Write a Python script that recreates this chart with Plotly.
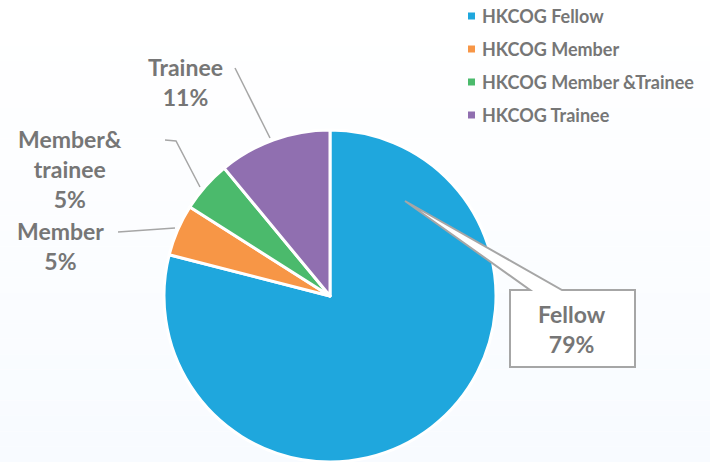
import plotly.graph_objects as go

# ---- data ----
categories = ["HKCOG Fellow", "HKCOG Member", "HKCOG Member &Trainee", "HKCOG Trainee"]
values = [79, 5, 5, 11]
slice_labels = ["Fellow<br>79%", "Member<br>5%", "Member&<br>trainee<br>5%", "Trainee<br>11%"]
colors = ["#1FA7DD", "#F79646", "#4BBA6C", "#906FB0"]

W, H = 710, 462
TXT = "#767676"
FONT = "Lato"

def px(x):
    return x / W

def py(y):
    return 1 - y / H

fig = go.Figure()
fig.add_trace(go.Pie(
    labels=categories, values=values, sort=False, direction="clockwise",
    rotation=0, textinfo="none", hoverinfo="label+percent",
    marker=dict(colors=colors, line=dict(color="white", width=3)),
    domain=dict(x=[px(163), px(497)], y=[0, 332 / H]),
    showlegend=False,
))

shapes = []
# subtle background gradient
n = 30
for i in range(n):
    t = i / (n - 1)
    r = round(255 - 7 * t)
    g = round(255 - 4 * t)
    shapes.append(dict(type="rect", xref="paper", yref="paper", x0=0, x1=1,
                       y0=1 - (i + 1) / n, y1=1 - i / n, layer="below",
                       line=dict(width=0), fillcolor=f"rgb({r},{g},255)"))

LINE = dict(color="#A6A6A6", width=1.5)
# leader lines
shapes.append(dict(type="path", xref="paper", yref="paper",
                   path=f"M{px(235)},{py(68)} L{px(270)},{py(138)}", line=LINE))
shapes.append(dict(type="path", xref="paper", yref="paper",
                   path=f"M{px(165)},{py(140)} L{px(176)},{py(141)} L{px(200)},{py(187)}", line=LINE))
shapes.append(dict(type="path", xref="paper", yref="paper",
                   path=f"M{px(118)},{py(232)} L{px(175)},{py(228)}", line=LINE))
# Fellow callout
pts = [(510, 290), (530, 290), (405, 201), (562, 290), (635, 290), (635, 367), (510, 367)]
path = "M" + " L".join(f"{px(x)},{py(y)}" for x, y in pts) + " Z"
shapes.append(dict(type="path", xref="paper", yref="paper", path=path,
                   fillcolor="white", line=dict(color="#A6A6A6", width=2)))

annotations = []
label_pos = [(572, 329), (60, 246), (70, 169), (185, 82)]
for (x, y), t in zip(label_pos, slice_labels):
    annotations.append(dict(x=px(x), y=py(y), xref="paper", yref="paper",
                            text="<b>" + t.replace("<br>", "</b><br><b>") + "</b>",
                            showarrow=False, xanchor="center", yanchor="middle",
                            font=dict(family=FONT, size=23, color=TXT)))

# legend (manual)
leg_y = [16, 49, 82, 115]
for yy, c, name in zip(leg_y, colors, categories):
    shapes.append(dict(type="rect", xref="paper", yref="paper",
                       x0=px(468), x1=px(475), y0=py(yy + 3.5), y1=py(yy - 3.5),
                       fillcolor=c, line=dict(width=0)))
    annotations.append(dict(x=px(480), y=py(yy), xref="paper", yref="paper",
                            text=f"<b>{name}</b>", showarrow=False,
                            xanchor="left", yanchor="middle",
                            font=dict(family=FONT, size=18, color=TXT)))

fig.update_layout(width=W, height=H, margin=dict(l=0, r=0, t=0, b=0),
                  paper_bgcolor="white", plot_bgcolor="white",
                  shapes=shapes, annotations=annotations, showlegend=False)
fig.write_html("out.html", config={"displayModeBar": False},
               post_script="document.body.style.margin='0px';document.body.style.overflow='hidden';")
